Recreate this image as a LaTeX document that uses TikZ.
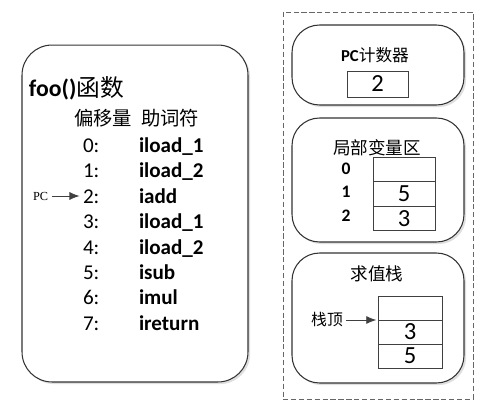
\documentclass[tikz,border=0pt]{standalone}
\usepackage{fontspec}
\setmainfont{Carlito}
\newfontfamily\cjk{Noto Sans CJK SC}
\newfontfamily\serif{Liberation Serif}
\usetikzlibrary{arrows.meta, positioning, shadows}

\begin{document}
\begin{tikzpicture}[x=0.02cm, y=-0.02cm, >={Latex[length=2mm, width=1.6mm]},
  every node/.style={inner sep=0pt, outer sep=0pt},
  panel/.style={draw=black!80, line width=0.6pt, rounded corners=0.55cm, fill=white,
    drop shadow={shadow xshift=1.2pt, shadow yshift=-1.2pt, opacity=0.25}},
  cell/.style={draw=black!75, line width=0.5pt, minimum height=0.49cm, font=\fontsize{14pt}{14pt}\selectfont},
  offtext/.style={anchor=base west, font=\fontsize{12pt}{14pt}\selectfont},
  optext/.style={anchor=base west, font=\fontsize{12pt}{14pt}\selectfont\bfseries},
  heading/.style={font=\fontsize{10pt}{12pt}\selectfont\cjk},
  slot/.style={font=\fontsize{10pt}{11pt}\selectfont\bfseries}]
  \useasboundingbox (0,0) rectangle (500,416);

  % method frame
  \node[panel, rounded corners=0.6cm, minimum width=4.52cm, minimum height=6.74cm] (foo) at (135,213.5) {};
  \node[anchor=west, font=\fontsize{13.5pt}{16pt}\selectfont] (footitle) at (29,88) {\textbf{foo()}{\cjk 函数}};
  \node[anchor=west, heading, font=\fontsize{11pt}{13pt}\selectfont\cjk] (hdroff) at (74,118) {偏移量};
  \node[anchor=west, heading, font=\fontsize{11pt}{13pt}\selectfont\cjk] (hdrop) at (141,118) {助词符};
  \node[offtext] (off0) at (83,152) {0:};
  \node[optext] (op0) at (139,152) {iload\_1};
  \node[offtext] (off1) at (83,177) {1:};
  \node[optext] (op1) at (139,177) {iload\_2};
  \node[offtext] (off2) at (83,203) {2:};
  \node[optext] (op2) at (139,203) {iadd};
  \node[offtext] (off3) at (83,228) {3:};
  \node[optext] (op3) at (139,228) {iload\_1};
  \node[offtext] (off4) at (83,254) {4:};
  \node[optext] (op4) at (139,254) {iload\_2};
  \node[offtext] (off5) at (83,279) {5:};
  \node[optext] (op5) at (139,279) {isub};
  \node[offtext] (off6) at (83,304) {6:};
  \node[optext] (op6) at (139,304) {imul};
  \node[offtext] (off7) at (83,330) {7:};
  \node[optext] (op7) at (139,330) {ireturn};
  \node[anchor=west, font=\fontsize{7pt}{8pt}\serif] (pc) at (33,196) {PC};
  \draw[->, black!75, shorten <=2pt, shorten >=2pt] (pc.east) -- (pc.east -| off2.west);

  % runtime state
  \node[draw=black!60, dash pattern=on 3pt off 1.5pt, minimum width=3.8cm, minimum height=7.74cm] (frame) at (378,205.5) {};
  \node[panel, minimum width=3.44cm, minimum height=1.6cm] (pcbox) at (378,65) {};
  \node[font=\fontsize{9.5pt}{11pt}\selectfont] (pctitle) at (375,55) {\textbf{PC}{\cjk 计数器}};
  \node[cell, minimum width=1.22cm, minimum height=0.52cm] (pcval) at (377.5,84) {2};

  \node[panel, minimum width=3.44cm, minimum height=2.48cm] (locals) at (378,180) {};
  \node[heading] (loctitle) at (377,148) {局部变量区};
  \node[cell, minimum width=1.24cm] (loc0) at (404,169.5) {};
  \node[cell, minimum width=1.24cm, below=0pt of loc0] (loc1) {5};
  \node[cell, minimum width=1.24cm, below=0pt of loc1] (loc2) {3};
  \node[slot] (slot0) at (346,169) {0};
  \node[slot] (slot1) at (346,192) {1};
  \node[slot] (slot2) at (346,216) {2};

  \node[panel, minimum width=3.44cm, minimum height=2.6cm] (stack) at (378,318) {};
  \node[heading] (stktitle) at (377,274) {求值栈};
  \node[cell, minimum width=1.28cm, minimum height=0.48cm] (stk0) at (410,308) {};
  \node[cell, minimum width=1.28cm, minimum height=0.48cm, below=0pt of stk0] (stk1) {3};
  \node[cell, minimum width=1.28cm, minimum height=0.48cm, below=0pt of stk1] (stk2) {5};
  \node[font=\fontsize{9pt}{10pt}\selectfont\cjk] (top) at (327,320) {栈顶};
  \draw[->, black!75, shorten <=2pt, shorten >=1pt] (top.east) -- (top.east -| stk0.south west);
\end{tikzpicture}
\end{document}
